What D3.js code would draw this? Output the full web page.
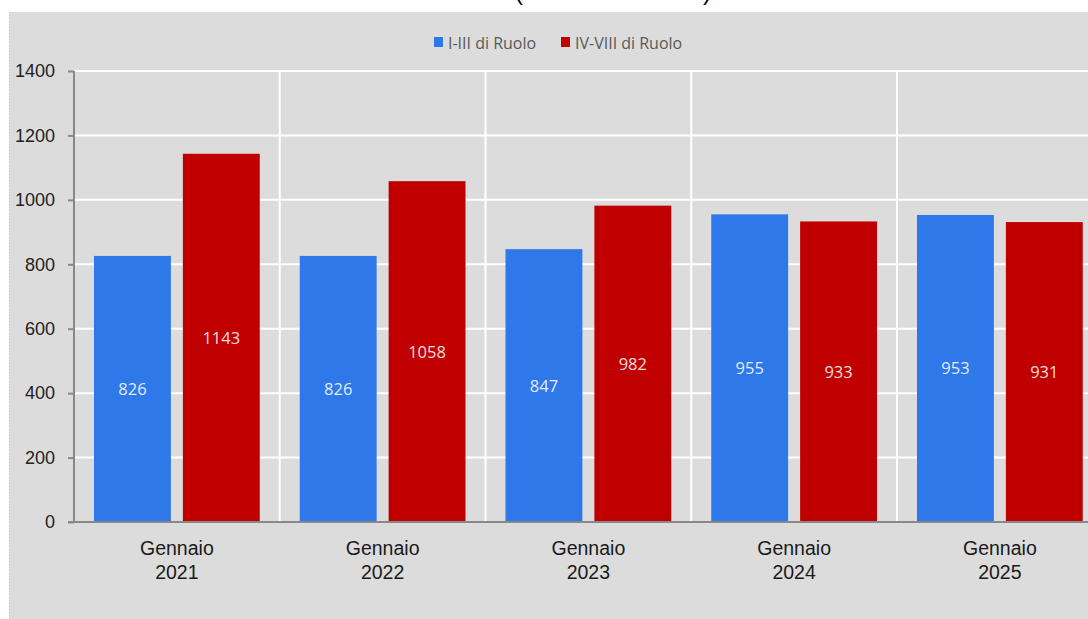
<!DOCTYPE html>
<html>
<head>
<meta charset="utf-8">
<script src="https://cdn.jsdelivr.net/npm/d3@7"></script>
<style>
  html, body { margin: 0; padding: 0; background: #ffffff; }
  svg { display: block; }
</style>
</head>
<body>
<script>
// Data
const categories = ["Gennaio 2021", "Gennaio 2022", "Gennaio 2023", "Gennaio 2024", "Gennaio 2025"];
const seriesNames = ["I-III di Ruolo", "IV-VIII di Ruolo"];
const valuesI_III = [826, 826, 847, 955, 953];
const valuesIV_VIII = [1143, 1058, 982, 933, 931];
const yTicks = [0, 200, 400, 600, 800, 1000, 1200, 1400];
const titleText = "(valori assoluti)";

const seriesValues = [valuesI_III, valuesIV_VIII];
const colors = ["#2f78ea", "#c00000"];

const W = 1088, H = 619;
const svg = d3.select("body").append("svg").attr("width", W).attr("height", H);

// chart area background
svg.append("rect").attr("x", 9).attr("y", 12).attr("width", W - 9).attr("height", H - 12)
  .attr("fill", "#dcdcdc");
svg.append("line").attr("x1", 9.5).attr("x2", 9.5).attr("y1", 12).attr("y2", H)
  .attr("stroke", "#c8c8c8").attr("stroke-dasharray", "1,2");

// title, largely above the visible area
svg.append("text").attr("x", 613).attr("y", 0).attr("text-anchor", "middle")
  .attr("font-family", "Liberation Sans, Arial, sans-serif").attr("font-size", 24)
  .attr("textLength", 196).attr("lengthAdjust", "spacing")
  .attr("fill", "#000").text(titleText);

const plotLeft = 74, plotTop = 71, plotBottom = 522;
const catW = 205.75;

const x0 = d3.scaleBand().domain(categories)
  .range([plotLeft, plotLeft + catW * categories.length]).paddingInner(0).paddingOuter(0);
const x1 = d3.scaleBand().domain(seriesNames)
  .range([0, x0.bandwidth()]).paddingInner(0.135).paddingOuter(0.225);
const y = d3.scaleLinear().domain([0, 1400]).range([plotBottom, plotTop]);

// horizontal gridlines
svg.append("g").selectAll("line").data(yTicks.filter(d => d > 0)).join("line")
  .attr("x1", plotLeft).attr("x2", W)
  .attr("y1", d => y(d)).attr("y2", d => y(d))
  .attr("stroke", "#ffffff").attr("stroke-width", 2);

// vertical gridlines at category boundaries
svg.append("g").selectAll("line").data(categories.slice(1)).join("line")
  .attr("x1", d => x0(d)).attr("x2", d => x0(d))
  .attr("y1", plotTop).attr("y2", plotBottom)
  .attr("stroke", "#ffffff").attr("stroke-width", 2);

// bars
const groups = svg.append("g").selectAll("g").data(categories).join("g")
  .attr("transform", d => `translate(${x0(d)},0)`);

groups.each(function(cat, ci) {
  const g = d3.select(this);
  seriesNames.forEach((s, si) => {
    const v = seriesValues[si][ci];
    g.append("rect")
      .attr("x", x1(s)).attr("width", x1.bandwidth())
      .attr("y", y(v)).attr("height", y(0) - y(v))
      .attr("fill", colors[si]);
    g.append("text")
      .attr("x", x1(s) + x1.bandwidth() / 2)
      .attr("y", (y(v) + y(0)) / 2)
      .attr("dy", "0.36em")
      .attr("text-anchor", "middle")
      .attr("font-family", "Open Sans, sans-serif").attr("font-size", 16.5)
      .attr("fill", "#ffffff").attr("fill-opacity", 0.88)
      .text(v);
  });
});

// y axis
const yAxis = svg.append("g").attr("transform", `translate(${plotLeft},0)`)
  .call(d3.axisLeft(y).tickValues(yTicks).tickSize(6).tickPadding(13).tickFormat(d3.format("d")));
yAxis.select(".domain").attr("stroke", "#888888").attr("stroke-width", 2)
  .attr("d", `M0,${plotTop}V${plotBottom}`);
yAxis.selectAll(".tick line").attr("stroke", "#888888").attr("stroke-width", 2);
yAxis.selectAll(".tick text").attr("font-family", "Liberation Sans, Arial, sans-serif")
  .attr("font-size", 18).attr("fill", "#222222");

// x axis baseline
svg.append("line").attr("x1", plotLeft - 6).attr("x2", W)
  .attr("y1", plotBottom).attr("y2", plotBottom)
  .attr("stroke", "#888888").attr("stroke-width", 2);

// category labels (two lines)
const xl = svg.append("g").selectAll("text").data(categories).join("text")
  .attr("x", d => x0(d) + x0.bandwidth() / 2)
  .attr("y", 555)
  .attr("text-anchor", "middle")
  .attr("font-family", "Liberation Sans, Arial, sans-serif").attr("font-size", 19.5)
  .attr("fill", "#1a1a1a");
xl.each(function(d) {
  const parts = d.split(" ");
  const t = d3.select(this);
  t.append("tspan").attr("x", x0(d) + x0.bandwidth() / 2).text(parts[0]);
  t.append("tspan").attr("x", x0(d) + x0.bandwidth() / 2).attr("dy", 24).text(parts[1]);
});

// legend
const legendX = [434, 561];
const lg = svg.append("g").selectAll("g").data(seriesNames).join("g")
  .attr("transform", (d, i) => `translate(${legendX[i]},37)`);
lg.append("rect").attr("width", 9).attr("height", 10).attr("fill", (d, i) => colors[i]);
lg.append("text").attr("x", 14).attr("y", 6).attr("dy", "0.36em")
  .attr("font-family", "Open Sans, sans-serif").attr("font-size", 16)
  .attr("fill", "#595959").text(d => d);
</script>
</body>
</html>
